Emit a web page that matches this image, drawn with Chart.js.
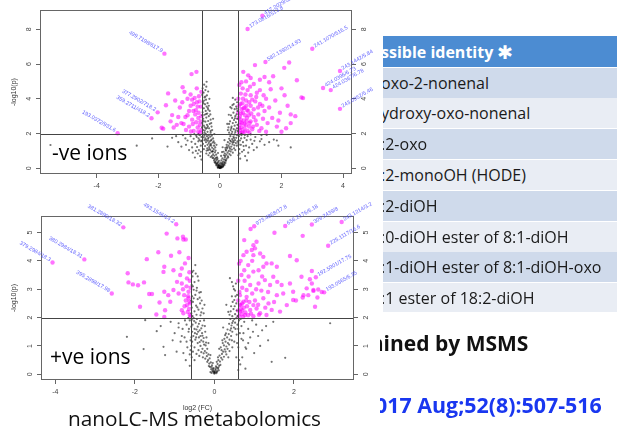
<!DOCTYPE html>
<html><head><meta charset="utf-8">
<script src="https://cdn.jsdelivr.net/npm/chart.js@4.4.1/dist/chart.umd.min.js"></script>
<style>
html,body{margin:0;padding:0;background:#fff;width:617px;height:436px;overflow:hidden;position:relative;font-family:'Open Sans',sans-serif;}
.abs{position:absolute;white-space:nowrap;}
#c1wrap{position:absolute;left:0;top:0;width:383px;height:200px;}
#c2wrap{position:absolute;left:0;top:200px;width:383px;height:215px;}
.ions{font-size:21px;line-height:21px;color:#000;}
#table{position:absolute;left:383px;top:36px;width:234px;height:276px;overflow:hidden;}
.row{position:absolute;left:0;width:234px;display:flex;align-items:center;overflow:hidden;white-space:nowrap;}
.row span{margin-left:-2px;}
.hdr{background:rgb(76,140,210);color:#fff;font-weight:700;font-size:16px;}
.odd{background:rgb(207,218,235);color:#1a1a1a;font-size:16px;}
.even{background:rgb(233,237,244);color:#1a1a1a;font-size:16px;}
.star{font-family:'DejaVu Sans',sans-serif;font-size:19px;margin-left:4px !important;}
.clip{position:absolute;overflow:hidden;white-space:nowrap;}
</style>
</head><body>
<div id="c1wrap"><canvas id="c1" width="383" height="200" style="width:383px;height:200px"></canvas></div>
<div id="c2wrap"><canvas id="c2" width="383" height="215" style="width:383px;height:215px"></canvas></div>
<div class="abs ions" style="left:52px;top:142px;">-ve ions</div>
<div class="abs ions" style="left:50px;top:346px;">+ve ions</div>
<div class="abs" style="left:68px;top:407.5px;font-size:20.8px;line-height:20.8px;color:#111;">nanoLC-MS metabolomics</div>
<div id="table"></div>
<div class="clip" style="left:380px;top:333px;width:237px;height:26px;"><div style="margin-left:-17px;font-weight:700;font-size:21px;line-height:21px;color:#111;">mined by MSMS</div></div>
<div class="clip" style="left:380px;top:394px;width:237px;height:26px;"><div style="margin-left:-5px;font-weight:700;font-size:21.4px;line-height:21px;color:rgb(25,55,240);">017 Aug;52(8):507-516</div></div>
<script>
// ---------- data ----------
const negXTicks = [-4, -2, 0, 2, 4];
const negYTicks = [0, 2, 4, 6, 8];
const posXTicks = [-4, -2, 0, 2];
const posYTicks = [0, 1, 2, 3, 4, 5];
const fcCut = [-0.585, 0.585];
const pCut = 2;

// -ve ions, not significant (black)
const negNs = [
[0,0.02],[0.03,0.05],[-0.04,0.07],[0.06,0.09],[-0.02,0.11],[0.01,0.14],[-0.07,0.13],[0.09,0.17],[-0.05,0.19],[0.04,0.22],[-0.09,0.24],[0.12,0.21],[-0.01,0.26],[0.07,0.3],[-0.12,0.29],[0.02,0.33],[-0.06,0.35],[0.1,0.37],[-0.14,0.4],[0.15,0.36],[-0.03,0.43],[0.05,0.46],[-0.1,0.48],[0.13,0.5],[-0.16,0.53],[0.18,0.47],[-0.08,0.55],[0.08,0.57],[-0.13,0.6],[0.16,0.62],[0.11,0.12],[-0.11,0.16],[0.14,0.28],[-0.15,0.32],[0.2,0.44],[-0.19,0.45],[0.02,0.08],[-0.02,0.04],[0.05,0.03],[-0.06,0.05],[0.01,0.01],[-0.01,0.02],[0.04,0.12],[-0.04,0.16],[0.08,0.24],[-0.08,0.3],
[-0.18,0.72],[-0.22,0.8],[-0.12,0.78],[-0.27,0.95],[-0.16,0.92],[-0.31,1.05],[-0.2,1.1],[-0.35,1.22],[-0.25,1.18],[-0.14,1.02],[-0.4,1.35],[-0.29,1.4],[-0.19,1.3],[-0.45,1.5],[-0.33,1.55],[-0.23,1.48],[-0.5,1.62],[-0.38,1.7],[-0.27,1.65],[-0.17,1.45],[-0.53,1.78],[-0.42,1.85],[-0.31,1.82],[-0.22,1.72],[-0.56,1.95],[-0.46,1.98],[-0.36,1.92],[-0.26,1.88],[-0.3,0.65],[-0.44,0.85],[-0.52,1.1],[-0.37,0.75],[-0.48,1.28],[-0.55,1.4],[-0.24,0.6],[-0.34,1.12],[-0.43,1.02],[-0.58,1.6],[-0.39,1.58],[-0.2,1.55],[-0.47,1.72],[-0.28,1.3],[-0.15,1.2],[-0.33,0.88],[-0.41,1.15],[-0.5,1.88],[-0.36,1.45],[-0.24,0.98],[-0.29,1.6],
[0.17,0.7],[0.21,0.78],[0.13,0.75],[0.25,0.9],[0.16,0.85],[0.29,1.0],[0.2,1.02],[0.33,1.12],[0.24,1.15],[0.12,0.95],[0.37,1.25],[0.28,1.3],[0.18,1.18],[0.41,1.38],[0.32,1.42],[0.22,1.35],[0.45,1.5],[0.36,1.55],[0.26,1.5],[0.49,1.62],[0.4,1.68],[0.3,1.7],[0.53,1.75],[0.44,1.82],[0.34,1.85],[0.56,1.9],[0.48,1.95],[0.38,1.98],[0.27,0.62],[0.35,0.75],[0.42,0.9],[0.5,1.05],[0.55,1.3],[0.46,1.15],[0.31,0.82],[0.39,1.08],[0.52,1.45],[0.23,1.22],[0.43,1.6],[0.57,1.55],[0.33,1.6],[0.47,1.32],
[-0.5,2.05],[-0.4,2.1],[-0.3,2.15],[-0.55,2.2],[-0.45,2.28],[-0.35,2.3],[-0.27,2.4],[-0.52,2.45],[-0.42,2.5],[-0.33,2.55],[-0.57,2.6],[-0.47,2.68],[-0.38,2.72],[-0.3,2.8],[-0.54,2.85],[-0.44,2.92],[-0.36,3.0],[-0.5,3.08],[-0.41,3.15],[-0.56,3.22],[-0.46,3.3],[-0.38,3.38],[-0.52,3.45],[-0.43,3.55],[-0.48,3.68],[-0.4,3.75],[-0.55,3.82],[-0.45,3.95],[-0.5,4.08],[-0.42,4.2],[-0.53,4.35],[-0.47,4.5],[-0.44,4.7],[-0.43,4.98],[-0.33,3.3],[-0.28,2.6],[-0.25,2.2],[-0.31,3.1],[-0.36,3.6],[-0.57,3.05],[-0.49,2.35],[-0.39,2.42],[-0.34,4.0],[-0.56,4.6],[-0.51,3.9],
[0.3,2.05],[0.4,2.1],[0.5,2.08],[0.35,2.2],[0.45,2.25],[0.55,2.3],[0.28,2.35],[0.38,2.4],[0.48,2.45],[0.57,2.5],[0.42,2.6],[0.52,2.65],[0.33,2.7],[0.46,2.78],[0.56,2.85],[0.4,2.9],[0.5,3.0],[0.36,3.05],[0.54,3.1],[0.44,3.2],[0.57,3.3],[0.48,3.4],[0.38,3.45],[0.53,3.55],[0.45,3.7],[0.56,3.8],[0.5,3.95],[0.42,4.05],[0.3,2.55],[0.26,2.2],
[-0.65,1.9],[-0.75,1.8],[-0.7,1.55],[-0.85,1.7],[-0.62,1.3],[-0.95,1.85],[-0.8,1.4],[-0.68,1.05],[-1.05,1.6],[-0.9,1.2],[-0.72,0.85],[-1.2,1.9],[-0.64,0.7],[-1.1,1.35],[-0.78,1.0],[-1.35,1.5],[-0.88,0.9],[-1.55,1.75],[-0.66,1.62],[-0.6,0.5],[-1.0,1.05],[-1.7,1.25],[-2.2,1.72],[-5.5,1.34],[-0.7,1.95],[-0.83,1.96],[-0.6,1.8],
[0.62,1.85],[0.7,1.9],[0.65,1.6],[0.8,1.75],[0.68,1.35],[0.9,1.85],[0.75,1.5],[0.63,1.1],[1.0,1.65],[0.85,1.3],[0.72,0.95],[1.15,1.8],[0.6,0.75],[1.05,1.4],[0.78,1.05],[1.3,1.55],[0.92,0.9],[1.6,1.5],[0.66,0.55],[1.2,1.2],[0.82,0.7],[1.45,1.35],[1.9,1.3],[1.75,1.65],[1.0,1.95],[0.7,1.98],[1.35,1.9],[0.95,1.2],[1.1,1.05],[0.6,1.45],
[-0.07,0.04],[0.06,0.06],[-0.03,0.17],[0.1,0.09],[-0.12,0.21],[0.15,0.19],[-0.17,0.34],[0.18,0.31],[-0.21,0.58],[0.22,0.55],[-0.09,0.63],[0.04,0.71],[-0.26,0.71],[0.26,0.68],[-0.23,0.97],[0.19,1.07],[-0.38,1.04],[0.35,0.97],[-0.32,1.33],[0.31,1.21],[-0.44,1.63],[0.41,1.49],[-0.37,1.77],[0.46,1.74],[-0.49,2.17],[0.51,2.19],[-0.41,2.33],[0.37,2.31],[-0.53,2.71],[0.49,2.88],[-0.45,3.12],[0.55,3.43],[-0.39,3.47],[0.41,3.63],[-0.53,3.73],[-0.47,4.13],[-0.57,4.22],[-0.38,4.42],[-0.51,4.81],[0.29,3.08],[0.34,3.52],[-0.22,2.85],[-0.18,1.97],[0.15,1.62],[-0.11,1.35],[0.09,1.21],[-0.06,0.88],[0.07,0.93],[-0.3,2.05],[0.24,2.55],[-0.58,2.35],[0.58,2.15],[-0.62,0.95],[0.64,0.85],[-0.74,1.22],[0.77,1.28],[-0.92,1.52],[0.87,1.62],[-1.12,1.72],[1.12,1.58],[-1.42,1.85],[1.35,1.68],[-0.81,0.62],[0.88,0.45],[-1.25,1.25],[1.52,1.92],[-0.69,1.72],[0.69,1.72],[-0.77,1.88],[0.81,1.91],[-0.61,1.55],[0.61,1.35],[-2.7,1.3],[2.3,1.2],[1.85,1.6]
];

// -ve ions, significant (magenta)
const negSig = [
[-1.8,6.6],[-0.92,5.42],[-0.76,5.55],[-2.02,3.22],[-2.22,2.88],[-3.32,2.02],[-1.68,4.31],[-1.75,3.63],[-1.89,2.33],[-1.84,2.28],[-1.55,3.06],[-1.21,4.66],[-1.15,4.4],[-1.45,3.9],[-1.3,3.5],[-1.05,4.0],[-0.95,4.25],[-0.85,3.7],[-0.75,4.6],[-0.68,4.15],[-0.62,3.55],[-1.0,3.3],[-1.12,2.95],[-1.25,2.6],[-1.4,2.5],[-1.6,2.7],[-0.9,2.8],[-0.8,3.1],[-0.7,2.9],[-0.65,2.5],[-0.6,2.2],[-0.72,2.35],[-0.85,2.15],[-1.0,2.4],[-1.1,2.2],[-0.95,3.6],[-0.78,3.35],[-0.66,3.85],[-0.6,3.0],[-0.88,2.55],[-1.35,2.95],[-0.7,2.1],[-0.63,2.7],[-0.75,3.8],[-1.05,3.05],[-0.82,4.05],[-0.69,3.2],[-1.22,3.8],[-0.6,4.4],[-0.9,3.95],[-1.5,2.35],[-0.64,2.05],[-0.77,2.65],[-0.94,2.12],[-1.18,2.55],[-0.72,3.55],[-0.86,3.3],
[0.9,8.02],[1.38,8.78],[1.48,6.12],[3.0,6.88],[3.9,5.6],[3.35,4.62],[3.6,4.5],[3.9,3.42],
[0.62,2.05],[0.66,2.2],[0.7,2.35],[0.64,2.5],[0.75,2.1],[0.8,2.3],[0.72,2.6],[0.68,2.8],[0.78,2.75],[0.85,2.5],[0.9,2.15],[0.95,2.4],[0.88,2.9],[0.82,3.05],[0.75,3.2],[0.65,3.0],[0.7,3.4],[0.62,3.6],[0.8,3.5],[0.92,3.3],[1.0,2.7],[1.05,2.25],[1.1,2.95],[1.0,3.6],[0.95,3.8],[0.85,3.9],[0.75,4.0],[0.68,4.3],[0.9,4.5],[1.0,4.2],[1.1,3.4],[1.15,3.85],[1.2,2.5],[1.25,3.1],[1.3,3.7],[1.35,2.3],[1.4,2.85],[1.45,3.3],[1.2,4.35],[1.3,4.5],[1.5,4.0],[1.55,2.6],[1.6,3.5],[1.7,2.9],[1.8,3.9],[1.65,4.55],[1.85,2.4],[1.95,3.2],[2.0,2.1],[2.1,4.2],[2.2,3.6],[2.3,2.6],[2.45,3.0],[2.5,5.07],[1.73,5.3],[2.09,5.78],[2.25,6.09],[1.14,5.94],[0.76,5.55],[1.3,5.1],[1.0,5.2],[0.85,5.0],[0.63,4.8],[1.45,5.25],[1.6,4.95],[1.1,4.85],[2.65,4.08],[2.7,4.04],[0.6,3.2],[0.73,3.75],[0.83,4.25],[0.98,4.7],[1.18,4.1],[0.66,2.65],[0.71,2.05],[0.79,2.55],[0.87,2.7],[0.94,3.05],[1.02,3.15],[0.61,2.9],[0.69,3.15],[0.77,3.45],[0.86,3.6],[0.97,2.6],[1.08,2.4],[1.16,2.75],[1.28,2.15],[0.6,4.0],[0.67,3.7],[1.38,3.6],[1.5,2.1],[0.74,4.6],[1.9,2.75],[2.3,3.1],[2.0,4.6],[1.42,4.2],[0.88,3.35],[0.63,2.3],[0.81,2.1],[0.96,2.05],[1.24,3.5],[1.05,3.95],[0.7,4.95],[0.92,5.35],[2.15,2.3]
];

const negLabels = [
[-1.8,6.6,'499.7198/617.9'],[-2.02,3.22,'377.2902/718.2'],[-2.22,2.88,'359.2711/418.2'],[-3.32,2.02,'193.0372/931.6'],
[0.9,8.02,'173.0816/513.8'],[1.38,8.78,'417.2029/520.5'],[1.48,6.12,'582.1392/14.93'],[3.0,6.88,'241.1070/516.5'],
[3.9,5.6,'243.1442/5.84'],[3.35,4.62,'424.0396/6.73'],[3.6,4.5,'424.0367/6.78'],[3.9,3.42,'243.0952/5.46']
];

// +ve ions, not significant (black)
const posNs = [
[0,0.02],[0.02,0.06],[-0.03,0.09],[0.05,0.04],[-0.05,0.12],[0.03,0.15],[-0.08,0.18],[0.07,0.11],[-0.02,0.22],[0.09,0.2],[-0.11,0.26],[0.04,0.28],[-0.06,0.32],[0.12,0.3],[-0.13,0.38],[0.08,0.36],[-0.09,0.42],[0.14,0.45],[-0.16,0.5],[0.1,0.5],[-0.12,0.56],[0.17,0.58],[-0.19,0.64],[0.06,0.44],[-0.04,0.4],[0.13,0.66],[-0.2,0.76],[0.19,0.72],[-0.15,0.7],[0.01,0.1],[-0.01,0.05],[0.11,0.14],[-0.1,0.08],[0.0,0.08],[-0.02,0.14],[0.03,0.2],[-0.07,0.26],[0.06,0.24],
[-0.24,0.82],[-0.3,0.9],[-0.18,0.9],[-0.35,1.0],[-0.26,1.05],[-0.42,1.1],[-0.21,1.12],[-0.33,1.2],[-0.48,1.22],[-0.39,1.3],[-0.27,1.28],[-0.53,1.35],[-0.44,1.42],[-0.31,1.45],[-0.56,1.5],[-0.37,1.55],[-0.5,1.6],[-0.23,1.5],[-0.42,1.68],[-0.55,1.75],[-0.3,1.72],[-0.47,1.82],[-0.36,1.88],[-0.57,1.92],[-0.26,1.9],[-0.52,1.98],[-0.4,0.85],[-0.5,0.95],[-0.56,1.15],[-0.45,0.72],[-0.57,0.6],[-0.38,0.65],[-0.29,0.6],[-0.54,0.8],[-0.46,1.3],[-0.35,1.35],[-0.58,1.3],[-0.41,1.5],[-0.2,1.3],[-0.33,1.62],[-0.49,1.45],[-0.58,1.68],[-0.28,1.15],[-0.44,1.95],
[-0.55,2.05],[-0.45,2.1],[-0.35,2.08],[-0.27,2.15],[-0.5,2.22],[-0.4,2.28],[-0.57,2.35],[-0.3,2.32],[-0.46,2.42],[-0.36,2.5],[-0.54,2.55],[-0.42,2.65],[-0.32,2.6],[-0.56,2.75],[-0.48,2.8],[-0.38,2.88],[-0.52,2.98],[-0.44,3.05],[-0.57,3.15],[-0.5,3.25],[-0.4,3.3],[-0.55,3.45],[-0.47,3.55],[-0.53,3.65],[-0.48,3.85],[-0.58,2.6],[-0.25,2.45],[-0.34,2.9],[-0.58,2.15],
[0.22,0.8],[0.26,0.88],[0.18,0.85],[0.3,0.98],[0.24,1.02],[0.34,1.1],[0.28,1.15],[0.38,1.22],[0.21,1.1],[0.32,1.3],[0.42,1.35],[0.36,1.42],[0.27,1.38],[0.45,1.5],[0.4,1.55],[0.33,1.58],[0.49,1.65],[0.43,1.72],[0.37,1.78],[0.52,1.82],[0.47,1.88],[0.4,1.95],[0.55,1.98],[0.3,0.7],[0.38,0.82],[0.45,0.95],[0.5,1.15],[0.56,1.4],[0.25,1.25],[0.16,0.95],[0.35,0.6],[0.53,1.6],[0.58,1.75],[0.44,1.2],
[0.45,2.05],[0.52,2.12],[0.38,2.1],[0.56,2.25],[0.48,2.3],[0.42,2.4],[0.55,2.5],[0.5,2.62],[0.44,2.75],[0.57,2.8],[0.52,2.95],[0.47,3.1],[0.39,3.39],[0.3,2.45],[0.58,2.05],[0.35,2.2],[0.54,3.2],
[-0.62,1.9],[-0.7,1.75],[-0.65,1.5],[-0.8,1.6],[-0.6,1.2],[-0.75,1.3],[-0.68,0.95],[-0.9,1.8],[-0.85,1.15],[-0.62,0.7],[-1.0,1.45],[-1.45,1.52],[-1.74,1.91],[-1.28,0.97],[-1.24,0.68],[-1.78,0.89],[-2.2,1.32],[-0.72,0.5],[-1.1,1.85],[-0.95,0.8],[-0.66,1.98],
[0.62,1.9],[0.68,1.7],[0.64,1.45],[0.75,1.85],[0.72,1.2],[0.85,1.6],[0.6,0.95],[0.8,0.9],[0.95,1.9],[0.7,0.6],[0.9,1.3],[1.05,1.75],[1.2,1.55],[0.65,0.35],[1.44,0.44],[1.78,0.58],[2.91,1.8],[1.48,1.85],[1.35,1.2],[1.0,0.75],[0.78,0.2],[1.15,1.0],[0.6,1.6],
[-0.07,0.05],[0.06,0.08],[-0.04,0.19],[0.1,0.24],[-0.14,0.29],[0.15,0.33],[-0.18,0.44],[0.2,0.52],[-0.23,0.55],[0.24,0.62],[-0.1,0.68],[0.09,0.6],[-0.27,0.74],[0.28,0.8],[-0.33,0.78],[0.33,0.9],[-0.22,1.02],[0.2,1.2],[-0.37,1.14],[0.37,1.05],[-0.3,1.36],[0.29,1.44],[-0.45,1.58],[0.42,1.62],[-0.39,1.78],[0.45,1.81],[-0.51,1.88],[0.5,1.95],[-0.33,2.18],[0.41,2.22],[-0.43,2.36],[0.51,2.4],[-0.52,2.68],[0.46,2.55],[-0.37,2.7],[0.53,2.75],[-0.45,2.95],[0.49,3.0],[-0.54,3.1],[-0.42,3.45],[-0.56,3.6],[0.44,3.25],[-0.5,0.5],[0.55,0.6],[-0.58,1.0],[0.57,1.1],[-0.24,1.7],[0.22,1.65],[-0.15,1.1],[0.12,0.9],[-0.62,0.3],[0.62,0.5],[-0.7,1.15],[0.73,1.45],[-0.82,1.35],[0.85,1.1],[-0.9,1.65],[0.97,1.5],[-1.05,1.2],[1.1,1.35],[-0.78,0.75],[0.78,0.95],[-0.64,1.6],[0.66,1.95],[-1.35,1.7],[1.3,1.7],[0.6,0.15],[-0.6,0.85],[0.68,1.25],[-0.74,1.9]
];

// +ve ions, significant (magenta)
const posSig = [
[-2.29,5.18],[-0.96,5.29],[-3.27,4.05],[-4.07,3.94],[-2.58,2.85],
[-1.2,4.96],[-0.93,4.79],[-0.79,4.85],[-0.78,4.75],[-1.41,4.3],[-1.7,4.06],[-1.09,4.18],[-1.26,3.79],[-1.28,3.61],[-1.03,3.67],[-0.82,3.73],[-0.74,3.91],[-0.86,3.5],[-0.94,3.26],[-0.82,3.2],[-0.69,3.38],[-2.18,3.56],[-2.16,3.24],[-2.05,3.17],[-1.92,3.14],[-1.77,3.24],[-1.64,2.83],[-1.57,2.83],[-1.87,2.38],[-1.38,2.53],[-1.26,2.91],[-1.16,2.79],[-1.11,2.56],[-1.03,2.97],[-0.9,2.85],[-0.79,3.0],[-0.76,2.79],[-0.65,2.91],[-0.65,2.68],[-0.63,2.56],[-0.69,2.44],[-0.78,2.15],[-0.82,2.26],[-1.24,2.26],[-1.46,2.11],[-1.26,2.02],
[-0.62,2.1],[-0.64,2.3],[-0.61,2.5],[-0.66,2.75],[-0.6,3.05],[-0.63,3.6],[-0.67,2.2],[-0.72,2.6],[-0.7,3.1],[-0.75,2.4],[-0.6,2.05],[-0.62,3.3],[-0.88,4.3],[-0.65,4.1],[-0.72,4.75],
[1.0,5.22],[0.91,5.12],[1.78,5.23],[2.45,5.28],[3.2,5.37],[2.86,4.53],[2.55,3.42],[2.76,2.89],[1.51,4.99],[2.22,4.88],[1.9,4.17],[2.07,4.02],[0.75,4.73],
[0.98,4.55],[1.02,4.44],[1.06,4.67],[0.94,4.38],[0.81,4.32],[0.73,4.2],[0.98,4.2],[1.15,4.26],[1.23,4.14],[0.85,3.85],[0.75,3.67],[0.98,3.62],[1.11,3.67],[1.23,3.79],[1.31,3.91],[1.44,3.91],[1.57,3.79],[1.48,3.44],[1.58,3.26],[1.69,3.15],[1.4,3.15],[1.27,3.32],[1.11,3.2],[0.9,3.15],[0.81,2.97],[0.64,2.79],[0.73,2.56],[0.98,2.44],[1.23,2.68],[1.36,2.5],[1.57,2.79],[1.73,2.85],[1.9,3.2],[1.98,2.91],[2.19,3.44],[2.24,2.79],[2.36,2.79],[2.45,3.64],[2.45,3.2],[2.49,2.97],[2.53,2.38],[2.32,3.03],[1.98,2.62],[1.82,2.44],[1.65,2.21],[1.44,2.27],[1.31,2.09],[1.15,2.15],[1.06,2.32],[0.9,2.27],[0.77,2.09],[0.64,2.21],[0.66,2.44],[0.81,2.73],
[0.62,2.05],[0.68,2.12],[0.72,2.02],[0.78,2.18],[0.85,2.08],[0.92,2.14],[0.98,2.05],[0.66,2.3],[0.74,2.35],[0.82,2.4],[0.7,2.5],[0.6,2.6],[0.88,2.55],[0.63,2.9],[0.6,3.3],[0.68,3.5],[0.62,3.9],[0.7,3.05],[0.76,3.3],[0.86,3.45],[0.95,2.85],[1.02,2.6],[1.1,2.45],[1.18,2.95],[1.05,3.0],[0.66,4.0],[0.95,4.0],[1.35,2.9],[1.5,2.55],[1.2,3.45],[0.6,2.25],[0.64,2.45],[0.7,2.25],[0.8,2.6],[1.12,2.1],[1.28,2.35],[2.05,2.6],[2.7,2.9],
[2.4,3.35],[2.61,2.99],[2.59,2.71],[2.22,2.71],[2.49,2.94]
];

const posLabels = [
[-2.29,5.18,'381.2890/18.32'],[-0.96,5.29,'493.1546/14.2'],[-3.27,4.05,'380.2984/18.31'],[-4.07,3.94,'379.2984/18.3'],[-2.58,2.85,'395.2898/17.98'],
[1.0,5.22,'973.4868/17.8'],[1.78,5.23,'656.2176/6.18'],[2.45,5.28,'309.2439/8'],[3.2,5.37,'243.1214/3.2'],[2.86,4.53,'225.1117/16.6'],[2.55,3.42,'192.5901/17.75'],[2.76,2.89,'193.0565/6.35']
];

const tableHeader = 'ssible identity';
const tableRows = ['oxo-2-nonenal','ydroxy-oxo-nonenal',':2-oxo',':2-monoOH (HODE)',':2-diOH',':0-diOH ester of 8:1-diOH',':1-diOH ester of 8:1-diOH-oxo',':1 ester of 18:2-diOH'];

// ---------- table ----------
(function(){
  const t = document.getElementById('table');
  const h = document.createElement('div');
  h.className = 'row hdr'; h.style.top = '0px'; h.style.height = '31px';
  h.innerHTML = '<span></span><span class="star">\u2731</span>';
  h.firstChild.textContent = tableHeader;
  t.appendChild(h);
  let top = 31.5;
  tableRows.forEach((txt, i) => {
    const r = document.createElement('div');
    r.className = 'row ' + (i % 2 === 0 ? 'odd' : 'even');
    r.style.top = top + 'px'; r.style.height = '30px';
    const s = document.createElement('span'); s.textContent = txt; r.appendChild(s);
    t.appendChild(r);
    top += 30.8;
  });
})();

// ---------- charts ----------
const tickFont = {size: 7, family: "'Liberation Sans', Arial, sans-serif"};
const volcanoDecor = {
  id: 'volcanoDecor',
  afterDatasetsDraw(chart, args, o) {
    const {ctx, chartArea: a, scales: {x, y}} = chart;
    ctx.save();
    ctx.strokeStyle = '#444'; ctx.lineWidth = 1;
    o.fc.forEach(v => {
      const px = Math.round(x.getPixelForValue(v)) + 0.5;
      ctx.beginPath(); ctx.moveTo(px, a.top); ctx.lineTo(px, a.bottom); ctx.stroke();
    });
    const py = Math.round(y.getPixelForValue(o.p)) + 0.5;
    ctx.beginPath(); ctx.moveTo(a.left, py); ctx.lineTo(a.right, py); ctx.stroke();
    ctx.strokeStyle = '#666';
    ctx.strokeRect(Math.round(a.left) + 0.5, Math.round(a.top) + 0.5, Math.round(a.right - a.left) - 1, Math.round(a.bottom - a.top) - 1);
    ctx.font = "5.5px 'Liberation Sans', Arial, sans-serif";
    ctx.fillStyle = 'rgba(70,70,255,0.85)';
    ctx.textBaseline = 'middle';
    o.labels.forEach(([vx, vy, t]) => {
      const lx = x.getPixelForValue(vx), ly = y.getPixelForValue(vy);
      ctx.save(); ctx.translate(lx, ly);
      if (vx < 0) { ctx.rotate(Math.PI / 6); ctx.textAlign = 'right'; ctx.fillText(t, -3, -1); }
      else { ctx.rotate(-Math.PI / 6); ctx.textAlign = 'left'; ctx.fillText(t, 3, -1); }
      ctx.restore();
    });
    ctx.restore();
  }
};

function yAxis(pos, d, ticks, width, pad, title) {
  return {
    type: 'linear', position: pos, min: d.yMin, max: d.yMax,
    afterBuildTicks: s => { s.ticks = ticks.map(v => ({value: v})); },
    afterFit: s => { s.width = width; },
    ticks: {font: tickFont, color: '#444', padding: pad, minRotation: 90, maxRotation: 90, crossAlign: 'center', autoSkip: false},
    grid: {display: true, drawOnChartArea: false, drawTicks: true, tickLength: 4, color: '#666'},
    border: {display: false},
    title: {display: !!title, text: title || '', font: tickFont, color: '#333', padding: {top: 10, bottom: 0}}
  };
}

function makeVolcano(id, d) {
  return new Chart(document.getElementById(id), {
    type: 'scatter',
    data: {datasets: [
      {data: d.ns.map(([x, y]) => ({x, y})), backgroundColor: 'rgba(0,0,0,0.55)', pointRadius: 1.1, borderWidth: 0},
      {data: d.sig.map(([x, y]) => ({x, y})), backgroundColor: 'rgba(255,0,255,0.55)', pointRadius: 2.2, borderWidth: 0}
    ]},
    options: {
      responsive: false, animation: false, devicePixelRatio: 1, events: [],
      layout: {padding: {top: d.padTop, left: 0, right: 0, bottom: 0}},
      plugins: {legend: {display: false}, tooltip: {enabled: false},
        volcanoDecor: {fc: fcCut, p: pCut, labels: d.labels}},
      scales: {
        x: {
          type: 'linear', min: d.xMin, max: d.xMax,
          afterBuildTicks: s => { s.ticks = d.xTicks.map(v => ({value: v})); },
          afterFit: s => { s.height = d.xH; },
          ticks: {font: tickFont, color: '#444', padding: 4, maxRotation: 0, autoSkip: false},
          grid: {display: true, drawOnChartArea: false, drawTicks: true, tickLength: 4, color: '#666'},
          border: {display: false},
          title: {display: !!d.xTitle, text: d.xTitle || '', font: tickFont, color: '#333', padding: {top: 0, bottom: 3}}
        },
        y: yAxis('left', d, d.yTicks, d.yW, 5, '-log10(p)'),
        y2: yAxis('right', d, d.yTicks, d.y2W, 6, '')
      }
    },
    plugins: [volcanoDecor]
  });
}

makeVolcano('c1', {ns: negNs, sig: negSig, labels: negLabels, xTicks: negXTicks, yTicks: negYTicks,
  xMin: -5.84, xMax: 4.29, yMin: -0.33, yMax: 9.1, padTop: 10, xH: 26, yW: 40, y2W: 31});
makeVolcano('c2', {ns: posNs, sig: posSig, labels: posLabels, xTicks: posXTicks, yTicks: posYTicks,
  xMin: -4.36, xMax: 3.51, yMin: -0.2, yMax: 5.58, padTop: 16, xH: 35, yW: 41, y2W: 29, xTitle: 'log2 (FC)'});
</script>
</body></html>
